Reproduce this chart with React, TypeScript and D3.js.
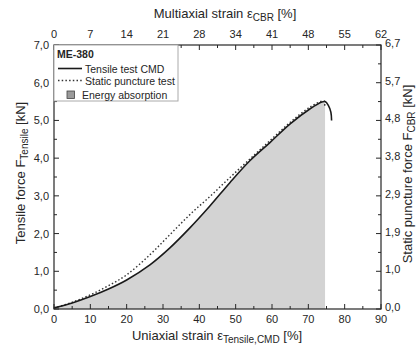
import React from "react";
import * as d3 from "d3";

// Tensile test CMD (uniaxial strain [%], tensile force [kN])
const tensileStrain = [0, 5, 10, 15, 20, 26.4, 31.9, 37.4, 42.9, 48.4, 53.9, 59.5, 65, 70.5, 73.7, 74.6, 75.5, 76.2, 76.4];
const tensileForce = [0.03, 0.16, 0.33, 0.53, 0.77, 1.17, 1.62, 2.15, 2.73, 3.35, 3.93, 4.42, 4.91, 5.31, 5.49, 5.5, 5.4, 5.22, 5.0];

// Static puncture test (multiaxial strain [%], CBR force [kN])
const punctureStrain = [0, 3.4, 6.9, 10.3, 13.8, 18.2, 22.0, 25.8, 29.6, 33.3, 37.1, 41.0, 44.8, 48.6, 51.2, 51.3];
const punctureForce = [0.02, 0.17, 0.36, 0.59, 0.87, 1.38, 1.89, 2.4, 2.86, 3.33, 3.8, 4.28, 4.74, 5.13, 5.28, 5.12];

// Ticks
const bottomTicks = [0, 10, 20, 30, 40, 50, 60, 70, 80, 90];
const topTickLabels = ["0", "7", "14", "21", "28", "34", "41", "48", "55", "62"];
const leftTicks = [0, 1, 2, 3, 4, 5, 6, 7];
const rightTickLabels = ["0,0", "1,0", "1,9", "2,9", "3,8", "4,8", "5,7", "6,7"];

const W = 417, H = 352;
const L = 54, R = 381, T = 45, B = 309;
const FONT = "'Liberation Sans', Arial, sans-serif";
const INK = "#262626";

export default function App() {
  const x = d3.scaleLinear().domain([0, 90]).range([L, R]);
  const y = d3.scaleLinear().domain([0, 7]).range([B, T]);
  const xTop = d3.scaleLinear().domain([0, 62]).range([L, R]);
  const yRight = d3.scaleLinear().domain([0, 6.7]).range([B, T]);

  const tensile = tensileStrain.map((s, i) => [s, tensileForce[i]] as [number, number]);
  const puncture = punctureStrain.map((s, i) => [s, punctureForce[i]] as [number, number]);
  let peak = 0;
  tensile.forEach((d, i) => { if (d[1] > tensile[peak][1]) peak = i; });
  const fillData = tensile.slice(0, peak + 1);

  const line = d3.line<[number, number]>().x(d => x(d[0])).y(d => y(d[1])).curve(d3.curveCatmullRom);
  const lineP = d3.line<[number, number]>().x(d => xTop(d[0])).y(d => yRight(d[1])).curve(d3.curveCatmullRom);
  const area = d3.area<[number, number]>().x(d => x(d[0])).y0(y(0)).y1(d => y(d[1])).curve(d3.curveCatmullRom);

  const fmt = (v: number) => d3.format(".1f")(v).replace(".", ",");
  const minorX = d3.range(5, 90, 10);
  const minorY = d3.range(0.5, 7, 1);
  const MAJ = 5, MIN = 3;

  const tickText = { fontFamily: FONT, fontSize: 11, fill: INK } as const;

  return (
    <svg width={W} height={H} style={{ position: "absolute", left: 0, top: 0, background: "#fff" }}>
      <rect x={0} y={0} width={W} height={H} fill="#fff" />
      <path d={area(fillData) ?? ""} fill="#d3d3d3" />
      <path d={lineP(puncture) ?? ""} fill="none" stroke="#333" strokeWidth={1.4} strokeDasharray="1.5,2.2" />
      <path d={line(tensile) ?? ""} fill="none" stroke="#1a1a1a" strokeWidth={1.6} />

      {/* frame */}
      <rect x={L} y={T} width={R - L} height={B - T} fill="none" stroke={INK} strokeWidth={1.2} />

      {/* bottom axis */}
      {bottomTicks.map(v => (
        <g key={"b" + v}>
          <line x1={x(v)} x2={x(v)} y1={B} y2={B - MAJ} stroke={INK} />
          <text x={x(v)} y={B + 14} textAnchor="middle" {...tickText}>{v}</text>
        </g>
      ))}
      {minorX.map(v => <line key={"bm" + v} x1={x(v)} x2={x(v)} y1={B} y2={B - MIN} stroke={INK} />)}

      {/* top axis */}
      {bottomTicks.map((v, i) => (
        <g key={"t" + v}>
          <line x1={x(v)} x2={x(v)} y1={T} y2={T + MAJ} stroke={INK} />
          <text x={xTop(62 * i / 9)} y={T - 7} textAnchor="middle" {...tickText}>{topTickLabels[i]}</text>
        </g>
      ))}
      {minorX.map(v => <line key={"tm" + v} x1={x(v)} x2={x(v)} y1={T} y2={T + MIN} stroke={INK} />)}

      {/* left axis */}
      {leftTicks.map(v => (
        <g key={"l" + v}>
          <line x1={L} x2={L + MAJ} y1={y(v)} y2={y(v)} stroke={INK} />
          <text x={L - 5} y={y(v) + 4} textAnchor="end" {...tickText}>{fmt(v)}</text>
        </g>
      ))}
      {minorY.map(v => <line key={"lm" + v} x1={L} x2={L + MIN} y1={y(v)} y2={y(v)} stroke={INK} />)}

      {/* right axis */}
      {leftTicks.map((v, i) => (
        <g key={"r" + v}>
          <line x1={R} x2={R - MAJ} y1={yRight(v * 6.7 / 7)} y2={yRight(v * 6.7 / 7)} stroke={INK} />
          <text x={R + 4} y={yRight(v * 6.7 / 7) + 2} textAnchor="start" {...tickText}>{rightTickLabels[i]}</text>
        </g>
      ))}
      {minorY.map(v => <line key={"rm" + v} x1={R} x2={R - MIN} y1={y(v)} y2={y(v)} stroke={INK} />)}

      {/* axis titles */}
      <text x={225} y={18} textAnchor="middle" fontFamily={FONT} fontSize={13} fill={INK}>
        Multiaxial strain ε<tspan fontSize={10} dy={3}>CBR</tspan><tspan dy={-3}> [%]</tspan>
      </text>
      <text x={217} y={340} textAnchor="middle" fontFamily={FONT} fontSize={13} fill={INK}>
        Uniaxial strain ε<tspan fontSize={10} dy={3}>Tensile,CMD</tspan><tspan dy={-3}> [%]</tspan>
      </text>
      <text transform={`translate(25,173) rotate(-90)`} textAnchor="middle" fontFamily={FONT} fontSize={13} fill={INK}>
        Tensile force F<tspan fontSize={10} dy={3}>Tensile</tspan><tspan dy={-3}> [kN]</tspan>
      </text>
      <text transform={`translate(412,174) rotate(-90)`} textAnchor="middle" fontFamily={FONT} fontSize={13} fill={INK}>
        Static puncture force F<tspan fontSize={10} dy={2.5}>CBR</tspan><tspan dy={-2.5}> [kN]</tspan>
      </text>

      {/* legend */}
      <rect x={L} y={T} width={124} height={56} fill="#fff" stroke="#aaa" strokeWidth={1} />
      <text x={57} y={57.5} fontFamily={FONT} fontSize={10.5} fontWeight="bold" fill={INK}>ME-380</text>
      <line x1={58} x2={82} y1={68.5} y2={68.5} stroke="#1a1a1a" strokeWidth={1.6} />
      <text x={85} y={72.5} fontFamily={FONT} fontSize={10.5} fill={INK}>Tensile test CMD</text>
      <line x1={58} x2={82} y1={80.5} y2={80.5} stroke="#333" strokeWidth={1.4} strokeDasharray="1.5,2.2" />
      <text x={85} y={84.5} fontFamily={FONT} fontSize={10.5} fill={INK}>Static puncture test</text>
      <rect x={67} y={91} width={7.5} height={7.5} fill="#9a9a9a" stroke="#444" strokeWidth={0.8} />
      <text x={82} y={98.5} fontFamily={FONT} fontSize={10.5} fill={INK}>Energy absorption</text>
    </svg>
  );
}
